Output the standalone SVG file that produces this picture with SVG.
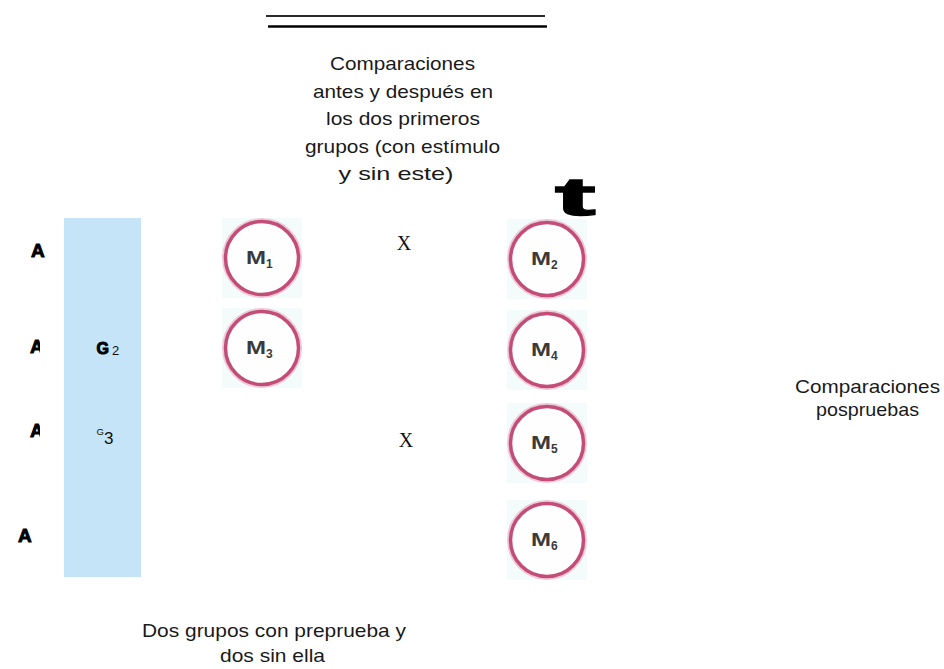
<svg xmlns="http://www.w3.org/2000/svg" width="944" height="669" viewBox="0 0 944 669">
<style>
.lbl{font-family:"Liberation Sans",Arial,sans-serif;font-size:19px;fill:#1a1a1a;text-anchor:middle}
.a{font-family:"Liberation Sans",Arial,sans-serif;font-weight:bold;font-size:19px;fill:#000;stroke:#000;stroke-width:0.9}
.x{font-family:"Liberation Serif","Times New Roman",serif;font-size:20px;fill:#111;text-anchor:middle}
.cellbg{fill:#f4fbfb}
.halo{fill:none;stroke:#e9a9c0;stroke-width:8;opacity:0.6}
.ring{fill:#fefefe;stroke:#c34d76;stroke-width:3.5}
.m{font-family:"Liberation Sans",Arial,sans-serif;font-weight:bold;font-size:19px;fill:#3a3a3a}
.sub{font-family:"Liberation Sans",Arial,sans-serif;font-weight:bold;font-size:12px;fill:#3a3a3a}
</style>
<defs>
<clipPath id="clipA"><rect x="0" y="300" width="40" height="160"/></clipPath>
</defs>
<rect width="944" height="669" fill="#fff"/>

<g id="rules">
<line x1="266" y1="16" x2="545" y2="16" stroke="#2a2a2a" stroke-width="2"/>
<line x1="268" y1="26.5" x2="547" y2="26.5" stroke="#000" stroke-width="2.3"/>
</g>

<g id="top-label">
<text class="lbl" x="402.5" y="70" textLength="145" lengthAdjust="spacingAndGlyphs">Comparaciones</text>
<text class="lbl" x="403" y="97.5" textLength="180" lengthAdjust="spacingAndGlyphs">antes y después en</text>
<text class="lbl" x="403" y="125" textLength="154" lengthAdjust="spacingAndGlyphs">los dos primeros</text>
<text class="lbl" x="402.5" y="152.5" textLength="195" lengthAdjust="spacingAndGlyphs">grupos (con estímulo</text>
<text class="lbl" x="396" y="180" textLength="115" lengthAdjust="spacingAndGlyphs">y sin este)</text>
</g>

<g id="t-mark">
<text x="0" y="0" transform="translate(555,215) scale(2.3,1)" font-family="Liberation Sans, Arial, sans-serif" font-weight="bold" font-size="53" fill="#000" stroke="#000" stroke-width="1.4">t</text>
</g>

<g id="group-bar">
<rect x="64" y="218" width="77" height="359" fill="#c5e4f8"/>
<text x="96.5" y="354" font-family="Liberation Sans, Arial, sans-serif" font-weight="bold" font-size="16" fill="#000" stroke="#000" stroke-width="1">G</text>
<text x="112" y="354.5" font-family="Liberation Sans, Arial, sans-serif" font-size="13" fill="#111">2</text>
<text x="96.5" y="435" font-family="Liberation Sans, Arial, sans-serif" font-size="9.5" fill="#111">G</text>
<text x="104" y="444" font-family="Liberation Sans, Arial, sans-serif" font-size="17" fill="#111">3</text>
</g>

<g id="row-labels">
<text class="a" x="31" y="257">A</text>
<g clip-path="url(#clipA)">
<text class="a" x="30" y="353">A</text>
<text class="a" x="30" y="437">A</text>
</g>
<text class="a" x="18" y="542">A</text>
</g>

<g id="M1">
<rect class="cellbg" x="222" y="218" width="80" height="80"/>
<circle class="halo" cx="262" cy="258" r="36"/>
<circle class="ring" cx="262" cy="258" r="36.5"/>
<text class="m" x="246" y="264" textLength="20" lengthAdjust="spacingAndGlyphs">M</text><text class="sub" x="266" y="268">1</text>
</g>
<g id="M3">
<rect class="cellbg" x="222" y="308" width="80" height="80"/>
<circle class="halo" cx="262" cy="348" r="36"/>
<circle class="ring" cx="262" cy="348" r="36.5"/>
<text class="m" x="246" y="354" textLength="20" lengthAdjust="spacingAndGlyphs">M</text><text class="sub" x="266" y="358">3</text>
</g>
<g id="M2">
<rect class="cellbg" x="507" y="219" width="80" height="80"/>
<circle class="halo" cx="547" cy="259" r="36"/>
<circle class="ring" cx="547" cy="259" r="36.5"/>
<text class="m" x="531" y="265" textLength="20" lengthAdjust="spacingAndGlyphs">M</text><text class="sub" x="551" y="269">2</text>
</g>
<g id="M4">
<rect class="cellbg" x="507" y="310" width="80" height="80"/>
<circle class="halo" cx="547" cy="350" r="36"/>
<circle class="ring" cx="547" cy="350" r="36.5"/>
<text class="m" x="531" y="356" textLength="20" lengthAdjust="spacingAndGlyphs">M</text><text class="sub" x="551" y="360">4</text>
</g>
<g id="M5">
<rect class="cellbg" x="507" y="403" width="80" height="80"/>
<circle class="halo" cx="547" cy="443" r="36"/>
<circle class="ring" cx="547" cy="443" r="36.5"/>
<text class="m" x="531" y="449" textLength="20" lengthAdjust="spacingAndGlyphs">M</text><text class="sub" x="551" y="453">5</text>
</g>
<g id="M6">
<rect class="cellbg" x="507" y="500" width="80" height="80"/>
<circle class="halo" cx="547" cy="540" r="36"/>
<circle class="ring" cx="547" cy="540" r="36.5"/>
<text class="m" x="531" y="546" textLength="20" lengthAdjust="spacingAndGlyphs">M</text><text class="sub" x="551" y="550">6</text>
</g>

<g id="connectors">
<text class="x" x="404" y="250">X</text>
<text class="x" x="406" y="447">X</text>
</g>

<g id="right-label">
<text class="lbl" x="867.5" y="392.5" textLength="145" lengthAdjust="spacingAndGlyphs">Comparaciones</text>
<text class="lbl" x="867.5" y="416" textLength="103" lengthAdjust="spacingAndGlyphs">pospruebas</text>
</g>

<g id="bottom-label">
<text class="lbl" x="274" y="636.5" textLength="264" lengthAdjust="spacingAndGlyphs">Dos grupos con preprueba y</text>
<text class="lbl" x="272.5" y="662" textLength="105" lengthAdjust="spacingAndGlyphs">dos sin ella</text>
</g>
</svg>
